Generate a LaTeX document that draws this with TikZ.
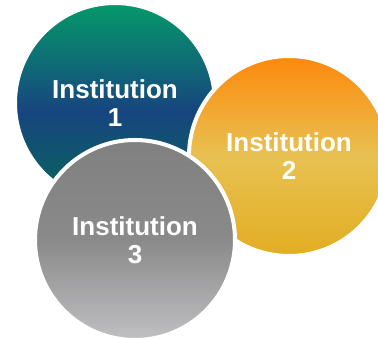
\documentclass[tikz,border=0pt]{standalone}
\usepackage{fontspec}
\setmainfont{Liberation Sans}
\definecolor{aTop}{HTML}{05996A}
\definecolor{aMid}{HTML}{17457F}
\definecolor{aBot}{HTML}{08675A}
\definecolor{bTop}{HTML}{FC890B}
\definecolor{bMid}{HTML}{E8C152}
\definecolor{bBot}{HTML}{E2AD22}
\definecolor{cTop}{HTML}{808080}
\definecolor{cMid}{HTML}{8A8A8B}
\definecolor{cBot}{HTML}{C0C0C2}
\pgfdeclareverticalshading{shA}{100bp}{color(0bp)=(aBot); color(25bp)=(aBot); color(48bp)=(aMid); color(75bp)=(aTop); color(100bp)=(aTop)}
\pgfdeclareverticalshading{shB}{100bp}{color(0bp)=(bBot); color(25bp)=(bBot); color(50bp)=(bMid); color(75bp)=(bTop); color(100bp)=(bTop)}
\pgfdeclareverticalshading{shC}{100bp}{color(0bp)=(cBot); color(25bp)=(cBot); color(50bp)=(cMid); color(75bp)=(cTop); color(100bp)=(cTop)}
\tikzset{
  inst/.style={circle, minimum size=200pt, inner sep=0pt, draw=white, line width=4pt,
    align=center, text=white, font=\fontsize{26}{28}\selectfont\bfseries}
}
\begin{document}
\begin{tikzpicture}[x=1pt,y=-1pt]
\useasboundingbox (0,0) rectangle (378,339);
\clip (0,0) rectangle (378,339);
\node[inst, shading=shA] (i1) at (115,103) {Institution\\1};
\node[inst, shading=shB] (i2) at (289,156) {Institution\\2};
\node[inst, shading=shC] (i3) at (135,240) {Institution\\3};
\end{tikzpicture}
\end{document}
